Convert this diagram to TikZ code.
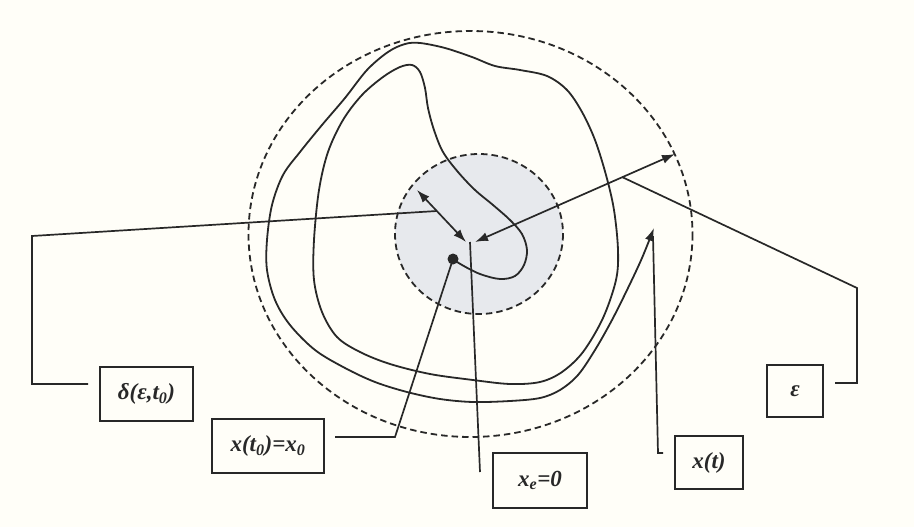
\documentclass[tikz,border=0pt]{standalone}
\usepackage{fontspec}
\setmainfont{Liberation Serif}
\usetikzlibrary{arrows.meta}
\definecolor{ink}{RGB}{40,40,40}
\definecolor{paper}{RGB}{255,254,248}
\definecolor{shadefill}{RGB}{231,233,237}
\begin{document}
\begin{tikzpicture}[x=1pt,y=-1pt,
  labelbox/.style={draw=ink, line width=1.6pt, inner sep=0pt, text=ink,
    font=\fontsize{23}{26}\selectfont\bfseries\itshape},
  lead/.style={draw=ink, line width=1.7pt},
  curve/.style={draw=ink, line width=1.8pt},
  ring/.style={draw=ink, line width=1.8pt, dash pattern=on 6.5pt off 4pt},
  tipped/.style={-{Latex[length=13pt,width=9pt]}},
  bothtipped/.style={{Latex[length=13pt,width=9pt]}-{Latex[length=13pt,width=9pt]}}]
\fill[paper] (0,0) rectangle (914,527);
\useasboundingbox (0,0) rectangle (914,527);

% key points
\coordinate (ctr) at (470,242);
\coordinate (dtipL) at (466,242);
\coordinate (etipR) at (475,242);
\coordinate (dEdge) at (417,190);
\coordinate (eEdge) at (675,154);
\coordinate (x0) at (453,259);

% regions
\fill[shadefill] (479,234) ellipse [x radius=84, y radius=80];
\path[ring] (479,234) ellipse [x radius=84, y radius=80];
\path[ring] (470.5,234) ellipse [x radius=222, y radius=203];

% trajectory
\draw[curve, tipped] plot[smooth, tension=0.55] coordinates {
 (453,259) (462,265) (480,274) (500,279) (515,276) (524,265) (527,250) (522,234)
 (510,220) (493,205) (475,190) (458,172) (443,152) (434,130) (428,108) (425,88)
 (420,72) (412,65) (400,67) (383,77) (362,95) (343,120) (328,152) (319,190)
 (314,240) (314,280) (322,312) (337,337) (360,352) (390,364) (430,374) (473,380)
 (510,384) (540,382) (562,372) (583,352) (603,318) (616,280) (618,250) (614,210)
 (606,175) (595,140) (582,112) (567,90) (547,76) (520,70) (495,66) (472,57)
 (445,48) (420,43) (405,44) (388,52) (367,70) (345,98) (322,125) (300,152)
 (283,175) (272,205) (267,240) (267,270) (275,300) (290,325) (315,350) (345,368)
 (375,382) (407,392) (440,399) (473,402) (510,401) (540,398) (560,390) (578,375)
 (595,350) (612,320) (628,288) (642,258) (654,228)};

\fill[ink] (x0) circle (5.5);

% radius arrows
\draw[lead, bothtipped] (dEdge) -- (dtipL);
\draw[lead, bothtipped] (etipR) -- (eEdge);

% label boxes
\node[labelbox, minimum width=93pt, minimum height=54pt] (dbox) at (146.5,394) {δ(ε,t\textsubscript{0})};
\node[labelbox, minimum width=112pt, minimum height=54pt] (x0box) at (268,446) {x(t\textsubscript{0})=x\textsubscript{0}};
\node[labelbox, minimum width=94pt, minimum height=55pt] (xebox) at (540,480.5) {x\textsubscript{e}=0};
\node[labelbox, minimum width=68pt, minimum height=53pt] (xtbox) at (709,462.5) {x(t)};
\node[labelbox, minimum width=56pt, minimum height=52pt] (ebox) at (795,391) {ε};

% leader lines
\coordinate (dA) at (88,384);
\coordinate (dB) at (32,384);
\coordinate (dC) at (32,236);
\coordinate (dD) at (437,211);
\draw[lead] (dA) -- (dB) -- (dC) -- (dD);

\coordinate (xA) at (335,437);
\coordinate (xB) at (395,437);
\draw[lead] (xA) -- (xB) -- (x0);

\coordinate (xeA) at (480,472);
\draw[lead] (xeA) -- (ctr);

\coordinate (tA) at (663,453);
\coordinate (tB) at (658,453);
\coordinate (tC) at (653,236);
\draw[lead] (tA) -- (tB) -- (tC);

\coordinate (eA) at (835,383);
\coordinate (eB) at (857,383);
\coordinate (eC) at (857,288);
\coordinate (eD) at (622,177);
\draw[lead] (eA) -- (eB) -- (eC) -- (eD);
\end{tikzpicture}
\end{document}
